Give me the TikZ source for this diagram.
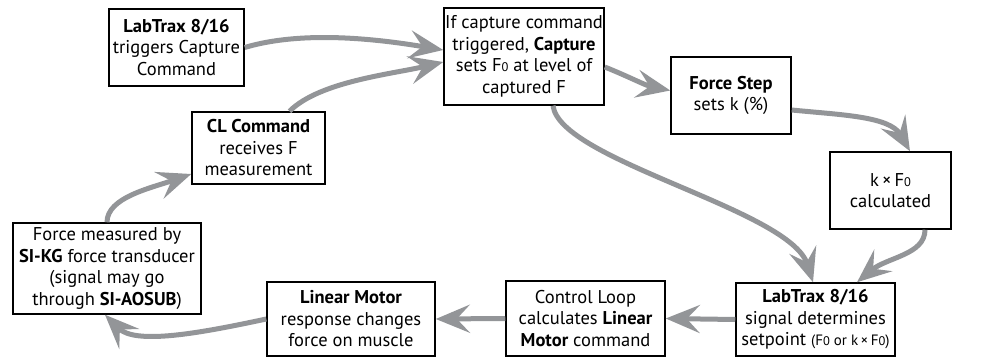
\documentclass[tikz,border=0pt]{standalone}
\usepackage{fontspec}
\setmainfont{PT Sans}
\usetikzlibrary{arrows.meta}
\definecolor{flowgray}{HTML}{939598}
\newcommand{\Fnot}{F{\fontsize{12.5}{12.5}\selectfont 0}}
\begin{document}
\begin{tikzpicture}[x=1pt,y=-1pt,
    box/.style={draw,line width=1.5pt,align=center,inner sep=0pt,font=\fontsize{18.5}{21.5}\selectfont},
    flow/.style={draw=flowgray,line width=5pt,-{Stealth[length=34pt,width=28pt,inset=13pt]}}]
  \useasboundingbox (0,0) rectangle (984,358);

  \node[box,minimum width=135pt,minimum height=77pt] (trigger) at (176.5,47.5) {\textbf{LabTrax 8/16}\\triggers Capture\\Command};
  \node[box,minimum width=160pt,minimum height=97pt] (capture) at (524,56.5) {If capture command\\triggered, \textbf{Capture}\\sets \Fnot{} at level of\\captured F};
  \node[box,minimum width=120pt,minimum height=77pt] (step) at (731,95.5) {\textbf{Force Step}\\sets k (\%)};
  \node[box,minimum width=121pt,minimum height=77pt] (calc) at (890.5,190.5) {k\,×\,\Fnot\\calculated};
  \node[box,minimum width=159pt,minimum height=73pt] (setpoint) at (815.5,319.5) {\textbf{LabTrax 8/16}\\signal determines\\setpoint {\fontsize{15}{21.5}\selectfont(\Fnot{} or k\,×\,\Fnot)}};
  \node[box,minimum width=159pt,minimum height=75pt] (loop) at (585.5,318.5) {Control Loop\\calculates \textbf{Linear}\\\textbf{Motor} command};
  \node[box,minimum width=168pt,minimum height=74pt] (motor) at (351,319) {\textbf{Linear Motor}\\response changes\\force on muscle};
  \node[box,minimum width=188pt,minimum height=91pt] (sensor) at (107,268.5) {Force measured by\\\textbf{SI-KG} force transducer\\(signal may go\\through \textbf{SI-AOSUB})};
  \node[box,minimum width=133pt,minimum height=72pt] (cl) at (258.5,148) {\textbf{CL Command}\\receives F\\measurement};

  \draw[flow] (trigger.east) .. controls +(60,-18) and +(-60,-10) .. ([yshift=6.5pt]capture.west);
  \draw[flow] ([xshift=31pt]cl.north) .. controls +(30,-30) and +(-50,12) .. ([yshift=-5.5pt]capture.west);
  \draw[flow] ([yshift=-10.5pt]capture.east) .. controls +(25,10) and +(-25,-5) .. ([yshift=5pt]step.west);
  \draw[flow] ([yshift=-14.5pt]step.east) .. controls +(50,5) and +(-20,-35) .. ([xshift=19.5pt]calc.north);
  \draw[flow] ([xshift=34.5pt]calc.south) .. controls +(0,25) and +(30,-25) .. ([xshift=41.5pt]setpoint.north);
  \draw[flow] ([xshift=29pt]capture.south) .. controls +(7,55) and +(-23,-73) .. ([xshift=-2.5pt]setpoint.north);
  \draw[flow] (setpoint.west) -- (loop.east);
  \draw[flow] (loop.west) -- (motor.east);
  \draw[flow] (motor.west) .. controls +(-70,15) and +(30,30) .. ([xshift=-2pt]sensor.south);
  \draw[flow] (sensor.north) .. controls +(0,-25) and +(-40,14) .. ([yshift=-26pt]cl.west);
\end{tikzpicture}
\end{document}
